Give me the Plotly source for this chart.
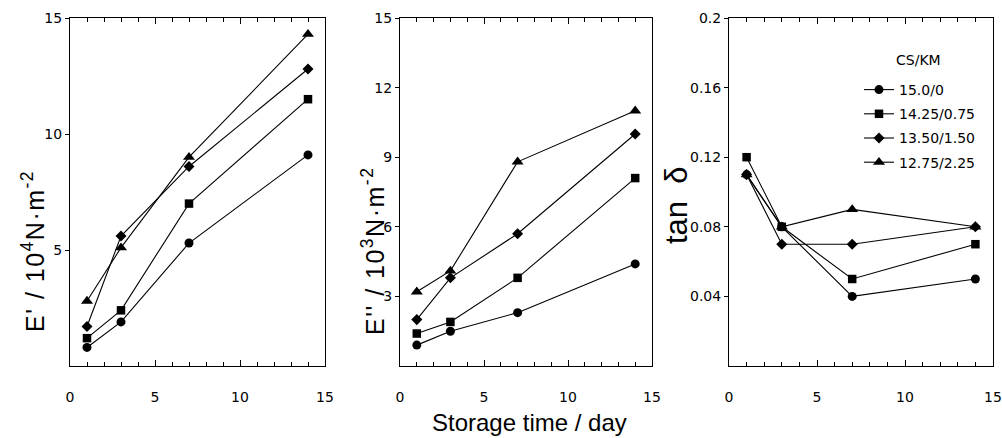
import plotly.graph_objects as go

days = [1, 3, 7, 14]
series_names = ["15.0/0", "14.25/0.75", "13.50/1.50", "12.75/2.25"]
symbols = ["circle", "square", "diamond", "triangle-up"]
marker_sizes = [9, 8.5, 8.5, 10.5]

e_storage = {
    "15.0/0": [0.8, 1.9, 5.3, 9.1],
    "14.25/0.75": [1.2, 2.4, 7.0, 11.5],
    "13.50/1.50": [1.7, 5.6, 8.6, 12.8],
    "12.75/2.25": [2.8, 5.1, 9.0, 14.3],
}
e_loss = {
    "15.0/0": [0.9, 1.5, 2.3, 4.4],
    "14.25/0.75": [1.4, 1.9, 3.8, 8.1],
    "13.50/1.50": [2.0, 3.8, 5.7, 10.0],
    "12.75/2.25": [3.2, 4.1, 8.8, 11.0],
}
tan_delta = {
    "15.0/0": [0.11, 0.08, 0.04, 0.05],
    "14.25/0.75": [0.12, 0.08, 0.05, 0.07],
    "13.50/1.50": [0.11, 0.07, 0.07, 0.08],
    "12.75/2.25": [0.11, 0.08, 0.09, 0.08],
}

W, H = 1002, 438
def px(x):
    return x / W
def py(y):
    return 1 - y / H

fig = go.Figure()
panels = [(e_storage, "x", "y"), (e_loss, "x2", "y2"), (tan_delta, "x3", "y3")]
for data, xa, ya in panels:
    for name, sym, ms in zip(series_names, symbols, marker_sizes):
        fig.add_trace(go.Scatter(
            x=days, y=data[name], mode="lines+markers", name=name,
            xaxis=xa, yaxis=ya, showlegend=(xa == "x3"), legendgroup=name,
            line=dict(color="black", width=1.1),
            marker=dict(symbol=sym, size=ms, color="black"),
        ))

tickfont = dict(family="DejaVu Sans", size=14, color="black")
doms = [(70, 325), (400, 652), (729, 993)]
ydom = [py(366), py(18)]
yranges = [[0, 15], [0, 15], [0, 0.2]]
ytickvals = [[5, 10, 15], [3, 6, 9, 12, 15], [0.04, 0.08, 0.12, 0.16, 0.2]]
yticktext = [["5", "10", "15"], ["3", "6", "9", "12", "15"], ["0.04", "0.08", "0.12", "0.16", "0.2"]]

layout = {}
for i, (d0, d1) in enumerate(doms):
    sfx = "" if i == 0 else str(i + 1)
    layout["xaxis" + sfx] = dict(
        domain=[px(d0), px(d1)], range=[0, 15], anchor="y" + sfx,
        tickvals=[0, 5, 10, 15], ticks="inside", ticklen=6, tickcolor="black",
        minor=dict(dtick=1, ticks="inside", ticklen=4, tickcolor="black"),
        showline=True, linecolor="black", linewidth=1, mirror="allticks",
        showgrid=False, zeroline=False, tickfont=tickfont, ticklabelstandoff=18,
        automargin=False,
    )
    layout["yaxis" + sfx] = dict(
        domain=ydom, range=yranges[i], anchor="x" + sfx,
        tickvals=ytickvals[i], ticktext=yticktext[i], ticks="outside", ticklen=4,
        tickcolor="black", showline=True, linecolor="black", linewidth=1,
        mirror=True, showgrid=False, zeroline=False, tickfont=tickfont,
        ticklabelstandoff=0, automargin=False,
    )
    rs = str(i + 4)
    layout["yaxis" + rs] = dict(
        overlaying="y" + sfx, anchor="x" + sfx, side="right", range=yranges[i],
        tickvals=ytickvals[i], ticks="inside", ticklen=5, tickcolor="black",
        showticklabels=False, showline=False, showgrid=False, zeroline=False,
        automargin=False,
    )

titlefont = dict(family="Liberation Sans", size=25, color="black")
def ann(x, y, text, font, angle=0):
    return dict(x=px(x), y=py(y), xref="paper", yref="paper", text=text,
                showarrow=False, font=font, textangle=angle,
                xanchor="center", yanchor="middle")

sp = '<span style="letter-spacing:1.5px">'
annotations = [
    ann(529, 422, "Storage time / day", dict(family="Liberation Sans", size=24, color="black")),
    ann(33, 251, sp + "E' / 10<sup>4</sup>N·m<sup>-2</sup></span>", titlefont, -90),
    ann(373, 251, sp + "E'' / 10<sup>3</sup>N·m<sup>-2</sup></span>", titlefont, -90),
    ann(677, 205, "tan  δ", dict(family="Liberation Sans", size=31, color="black"), -90),
    ann(918, 60, "CS/KM", dict(family="DejaVu Sans", size=14, color="black")),
]

fig.update_layout(
    width=W, height=H, margin=dict(l=0, r=0, t=0, b=0),
    paper_bgcolor="white", plot_bgcolor="white",
    showlegend=True,
    legend=dict(x=px(859), y=py(74), xanchor="left", yanchor="top",
                bgcolor="rgba(0,0,0,0)", font=dict(family="DejaVu Sans", size=14, color="black"),
                traceorder="grouped", tracegroupgap=3, itemwidth=30),
    annotations=annotations,
    **layout,
)

fig.write_html("out.html", config={"displayModeBar": False},
               post_script="document.body.style.margin='0';")
